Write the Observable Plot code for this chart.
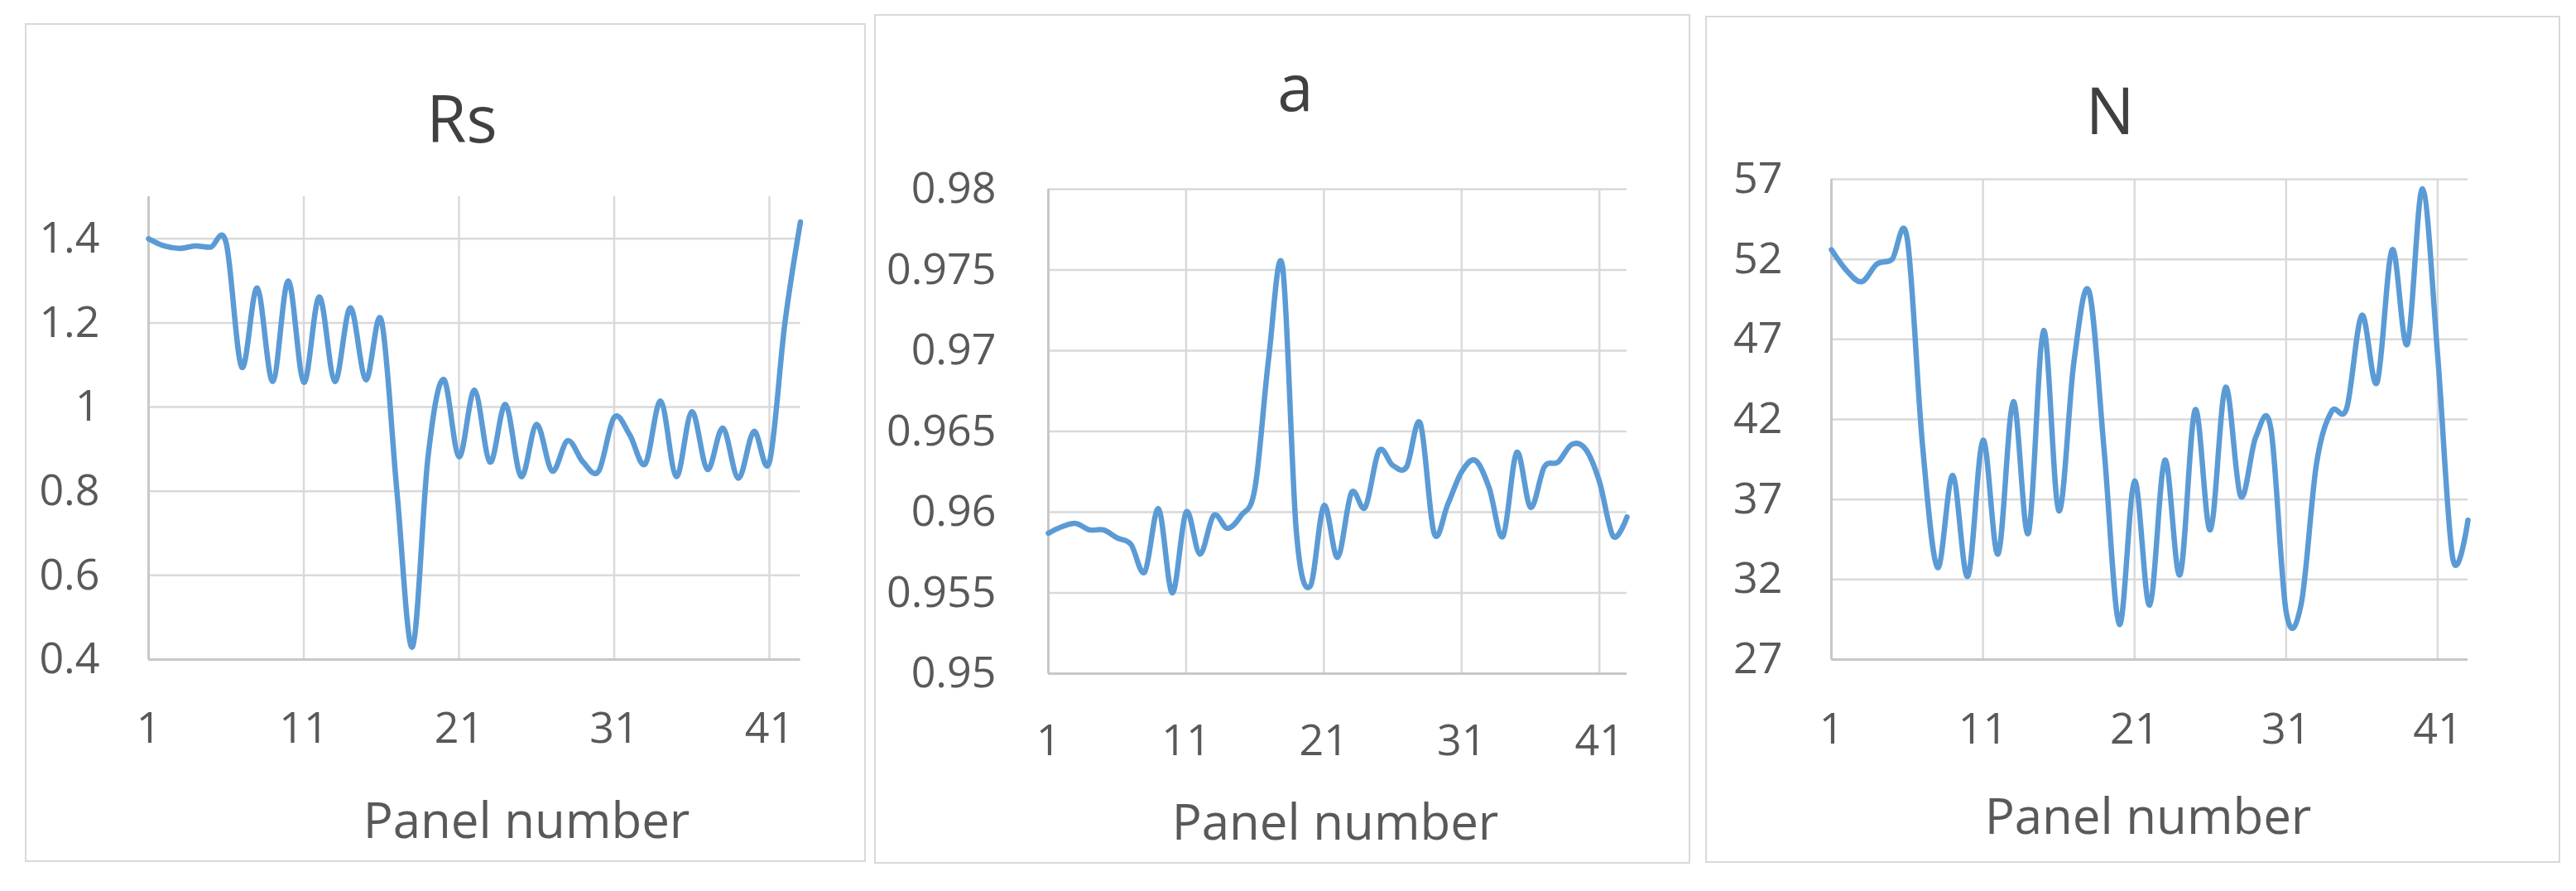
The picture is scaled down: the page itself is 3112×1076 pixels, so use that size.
<!DOCTYPE html>
<html>
<head>
<meta charset="utf-8">
<script src="https://cdn.jsdelivr.net/npm/d3@7"></script>
<script src="https://cdn.jsdelivr.net/npm/@observablehq/plot@0.6"></script>
<style>
  html, body { margin: 0; padding: 0; background: #ffffff; }
  body { width: 3112px; height: 1076px; position: relative; overflow: hidden; font-family: "Open Sans", sans-serif; }
  .box { position: absolute; border: 2px solid #d9d9d9; box-sizing: border-box; }
  .txt { position: absolute; white-space: nowrap; line-height: 1; transform: translateX(-50%); }
  .title { font-size: 78px; color: #404040; }
  .xlab { font-size: 60px; color: #595959; }
  .chart { position: absolute; }
</style>
</head>
<body>
<script>
// ---- data ----
const panelNumbers = d3.range(1, 44);
const xTicks = [1, 11, 21, 31, 41];

const rsValues = [1.40, 1.383, 1.377, 1.383, 1.38, 1.39, 1.095, 1.283, 1.061, 1.30,
  1.059, 1.262, 1.061, 1.236, 1.065, 1.206, 0.80, 0.43, 0.88, 1.066,
  0.882, 1.04, 0.869, 1.006, 0.835, 0.959, 0.848, 0.92, 0.869, 0.848,
  0.976, 0.934, 0.865, 1.014, 0.835, 0.989, 0.852, 0.95, 0.831, 0.942,
  0.869, 1.2, 1.44];
const rsTicks = [0.4, 0.6, 0.8, 1, 1.2, 1.4];

const aValues = [0.9587, 0.9591, 0.9593, 0.9589, 0.9589, 0.9584, 0.9580, 0.9563, 0.9602, 0.9550,
  0.9600, 0.9574, 0.9598, 0.9590, 0.9598, 0.9615, 0.9696, 0.9752, 0.9588, 0.9554,
  0.9604, 0.9572, 0.9612, 0.9603, 0.9638, 0.9629, 0.9628, 0.9655, 0.9587, 0.9605,
  0.9625, 0.9632, 0.9615, 0.9585, 0.9637, 0.9603, 0.9628, 0.9631, 0.9642, 0.9639,
  0.9619, 0.9585, 0.9597];
const aTicks = [0.95, 0.955, 0.96, 0.965, 0.97, 0.975, 0.98];

const nValues = [52.6, 51.3, 50.6, 51.7, 52.0, 53.3, 40.5, 32.75, 38.5, 32.2,
  40.7, 33.6, 43.1, 34.9, 47.55, 36.3, 45.6, 50.0, 40.0, 29.2,
  38.15, 30.4, 39.45, 32.3, 42.6, 35.1, 44.0, 37.2, 40.9, 41.4,
  30.0, 30.5, 39.2, 42.5, 42.7, 48.5, 44.3, 52.6, 46.7, 56.4,
  46.0, 33.3, 35.7];
const nTicks = [27, 32, 37, 42, 47, 52, 57];

const titles = ["Rs", "a", "N"];
const xLabel = "Panel number";

// ---- layout (page pixels) ----
const panels = [
  { title: titles[0], values: rsValues, ticks: rsTicks, yDomain: [0.4, 1.5],
    box: [30, 28, 1016, 1013],
    svg: [32, 200, 1011, 730],
    plot: [179, 966.5, 237, 796],
    yPad: 59, xPad: 64,
    titleX: 558, titleBase: 172, labX: 636, labBase: 1012 },
  { title: titles[1], values: aValues, ticks: aTicks, yDomain: [0.95, 0.98],
    box: [1056, 17, 986, 1026],
    svg: [1058, 190, 982, 755],
    plot: [1266, 1965, 228, 813],
    yPad: 63, xPad: 62,
    titleX: 1565, titleBase: 134, labX: 1613, labBase: 1014 },
  { title: titles[2], values: nValues, ticks: nTicks, yDomain: [27, 57],
    box: [2060, 19, 1033, 1023],
    svg: [2062, 180, 1029, 750],
    plot: [2212, 2981, 216, 796],
    yPad: 59, xPad: 65,
    titleX: 2549, titleBase: 162, labX: 2595, labBase: 1007 }
];

for (const p of panels) {
  const box = document.createElement("div");
  box.className = "box";
  Object.assign(box.style, { left: p.box[0] + "px", top: p.box[1] + "px", width: p.box[2] + "px", height: p.box[3] + "px" });
  document.body.appendChild(box);

  const t = document.createElement("div");
  t.className = "txt title";
  t.textContent = p.title;
  t.style.left = p.titleX + "px";
  t.style.top = (p.titleBase - 0.888 * 78) + "px";
  document.body.appendChild(t);

  const [sl, st, sw, sh] = p.svg;
  const [px0, px1, py0, py1] = p.plot;
  const data = p.values.map((v, i) => ({ x: panelNumbers[i], y: v }));
  const chart = Plot.plot({
    width: sw,
    height: sh,
    marginLeft: px0 - sl,
    marginRight: sl + sw - px1,
    marginTop: py0 - st,
    marginBottom: st + sh - py1,
    x: { domain: [1, 43] },
    y: { domain: p.yDomain },
    style: { fontFamily: "'Open Sans', sans-serif", background: "transparent", color: "#595959", overflow: "visible" },
    marks: [
      Plot.ruleY(p.ticks.slice(1), { stroke: "#d9d9d9", strokeWidth: 2.5 }),
      Plot.ruleX(xTicks.slice(1), { stroke: "#d9d9d9", strokeWidth: 2.5 }),
      Plot.ruleX([1], { stroke: "#c8c8c8", strokeWidth: 3 }),
      Plot.ruleY([p.ticks[0]], { stroke: "#c8c8c8", strokeWidth: 3 }),
      Plot.axisY(p.ticks, { tickSize: 0, tickPadding: p.yPad, label: null, fontSize: 52, fill: "#595959", tickFormat: d => String(d) }),
      Plot.axisX(xTicks, { tickSize: 0, tickPadding: p.xPad, label: null, fontSize: 52, fill: "#595959", tickFormat: d => String(d) }),
      Plot.line(data, { x: "x", y: "y", curve: "cardinal", tension: 0, stroke: "#5b9bd5", strokeWidth: 6.5, strokeLinejoin: "round", strokeLinecap: "round" })
    ]
  });
  chart.classList.add("chart");
  chart.style.left = sl + "px";
  chart.style.top = st + "px";
  document.body.appendChild(chart);

  const l = document.createElement("div");
  l.className = "txt xlab";
  l.textContent = xLabel;
  l.style.left = p.labX + "px";
  l.style.top = (p.labBase - 0.888 * 60) + "px";
  document.body.appendChild(l);
}
</script>
</body>
</html>
